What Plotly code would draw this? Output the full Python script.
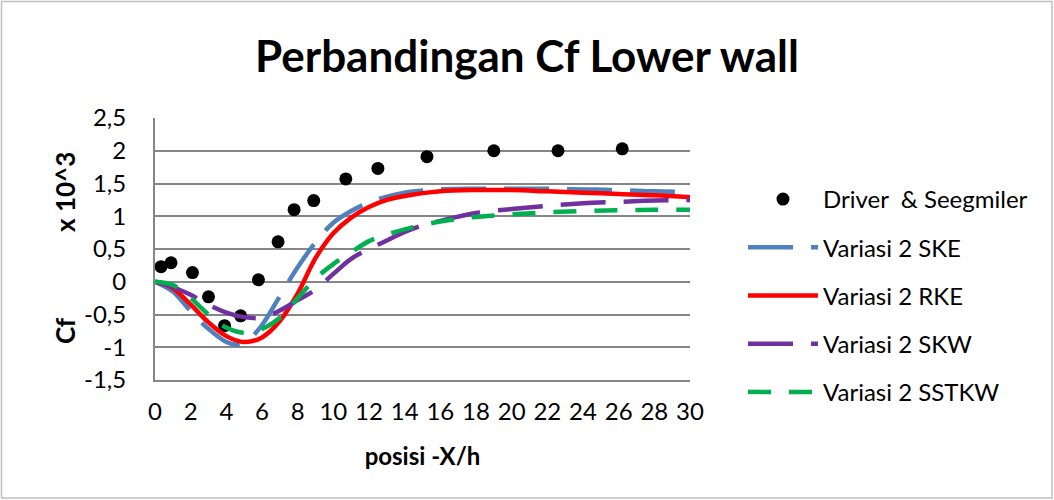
import plotly.graph_objects as go

# Experimental data (Driver & Seegmiller)
exp_x = [0.34, 0.9, 2.1, 3.0, 3.9, 4.8, 5.8, 6.9, 7.8, 8.9, 10.7, 12.5, 15.25, 19.0, 22.6, 26.2]
exp_y = [0.23, 0.29, 0.14, -0.23, -0.67, -0.52, 0.03, 0.61, 1.10, 1.24, 1.57, 1.73, 1.91, 2.00, 2.00, 2.03]

# Variasi 2 SKE
ske_x = [0, 1, 2, 3, 4, 4.6, 5.2, 6, 7, 8, 9, 10, 11, 12, 13, 14, 16, 18, 20, 22, 24, 26, 28, 30]
ske_y = [0, -0.15, -0.45, -0.72, -0.92, -0.96, -0.90, -0.66, -0.22, 0.22, 0.60, 0.90, 1.08, 1.21, 1.30, 1.36, 1.41, 1.42, 1.42, 1.42, 1.41, 1.40, 1.38, 1.37]

# Variasi 2 RKE
rke_x = [0, 1, 2, 3, 4, 5, 6, 7, 8, 9, 10, 11, 12, 13, 14, 16, 18, 20, 22, 24, 26, 28, 30]
rke_y = [0, -0.10, -0.35, -0.62, -0.83, -0.92, -0.85, -0.60, -0.18, 0.36, 0.74, 0.98, 1.14, 1.25, 1.31, 1.38, 1.40, 1.40, 1.38, 1.36, 1.34, 1.32, 1.29]

# Variasi 2 SKW
skw_x = [0, 1, 2, 3, 4, 5, 6, 7, 8, 9, 10, 11, 12, 13, 14, 15, 16, 18, 20, 22, 24, 26, 28, 30]
skw_y = [0, -0.08, -0.20, -0.35, -0.47, -0.54, -0.55, -0.44, -0.28, -0.12, 0.12, 0.35, 0.50, 0.63, 0.76, 0.86, 0.93, 1.05, 1.11, 1.16, 1.20, 1.22, 1.24, 1.25]

# Variasi 2 SSTKW
sst_x = [0, 1, 2, 3, 4, 5, 6, 7, 8, 9, 10, 11, 12, 13, 14, 16, 18, 20, 22, 24, 26, 28, 30]
sst_y = [0, -0.05, -0.25, -0.50, -0.70, -0.78, -0.72, -0.55, -0.25, 0.05, 0.27, 0.45, 0.62, 0.72, 0.80, 0.92, 0.99, 1.03, 1.06, 1.08, 1.09, 1.10, 1.10]

x_ticks = list(range(0, 31, 2))
y_tick_vals = [-1.5, -1, -0.5, 0, 0.5, 1, 1.5, 2, 2.5]
y_tick_text = ["-1,5", "-1", "-0,5", "0", "0,5", "1", "1,5", "2", "2,5"]

FONT = "Lato"

fig = go.Figure()
fig.add_trace(go.Scatter(x=exp_x, y=exp_y, mode="markers", name="Driver  & Seegmiler",
                         marker=dict(color="black", size=13), legendgroup="g1"))
fig.add_trace(go.Scatter(x=ske_x, y=ske_y, mode="lines", name="Variasi 2 SKE",
                         line=dict(color="#4F81BD", width=4.5, dash="45px,18px", shape="spline", smoothing=1),
                         legendgroup="g2"))
fig.add_trace(go.Scatter(x=rke_x, y=rke_y, mode="lines", name="Variasi 2 RKE",
                         line=dict(color="#FF0000", width=4.5, shape="spline", smoothing=1),
                         legendgroup="g3"))
fig.add_trace(go.Scatter(x=skw_x, y=skw_y, mode="lines", name="Variasi 2 SKW",
                         line=dict(color="#7030A0", width=4.5, dash="45px,18px", shape="spline", smoothing=1),
                         legendgroup="g4"))
fig.add_trace(go.Scatter(x=sst_x, y=sst_y, mode="lines", name="Variasi 2 SSTKW",
                         line=dict(color="#00B050", width=4.5, dash="23px,18px", shape="spline", smoothing=1),
                         legendgroup="g5"))

L, R, T, B = 155, 364, 118, 120
pw, ph = 1054 - L - R, 500 - T - B

fig.update_layout(
    width=1054, height=500,
    margin=dict(l=L, r=R, t=T, b=B),
    paper_bgcolor="white", plot_bgcolor="white",
    font=dict(family=FONT, color="black", size=24),
    title=dict(text="<b>Perbandingan Cf Lower wall</b>", x=0.5, xref="container", xanchor="center",
               y=1 - 57 / 500, yref="container", yanchor="middle", font=dict(size=44, family=FONT)),
    showlegend=True,
    legend=dict(x=(743 - L) / pw, xanchor="left", y=(380 - 177) / ph, yanchor="top",
                traceorder="grouped", tracegroupgap=14, itemwidth=70,
                font=dict(size=24, family=FONT), bgcolor="rgba(0,0,0,0)"),
    xaxis=dict(range=[0, 30], tickvals=x_ticks, showgrid=False, zeroline=False,
               showline=True, linecolor="#868686", linewidth=2,
               ticks="outside", ticklen=9, tickcolor="rgba(0,0,0,0)",
               tickfont=dict(size=24),
               title=dict(text="<b>posisi -X/h</b>", font=dict(size=24), standoff=24)),
    yaxis=dict(range=[-1.5, 2.5], tickvals=y_tick_vals, ticktext=y_tick_text,
               showgrid=True, gridcolor="#868686", gridwidth=2, zeroline=False,
               showline=True, linecolor="#868686", linewidth=2,
               ticks="outside", ticklen=22, tickcolor="rgba(0,0,0,0)",
               tickfont=dict(size=24)),
    shapes=[dict(type="rect", xref="paper", yref="paper",
                 x0=(1.5 - L) / pw, x1=(1052 - L) / pw, y0=(380 - 498) / ph, y1=(380 - 1.5) / ph,
                 line=dict(color="#BFBFBF", width=1.5), fillcolor="rgba(0,0,0,0)", layer="below")],
    annotations=[
        dict(text="<b>Cf</b>", xref="paper", yref="paper", x=(65 - L) / pw, y=(380 - 331) / ph,
             showarrow=False, textangle=-90, font=dict(size=26), xanchor="center", yanchor="middle"),
        dict(text="<b>x 10^3</b>", xref="paper", yref="paper", x=(65 - L) / pw, y=(380 - 192) / ph,
             showarrow=False, textangle=-90, font=dict(size=26), xanchor="center", yanchor="middle"),
    ],
)

fig.write_html("out.html", config={"displayModeBar": False},
               post_script="document.body.style.margin='0';")
